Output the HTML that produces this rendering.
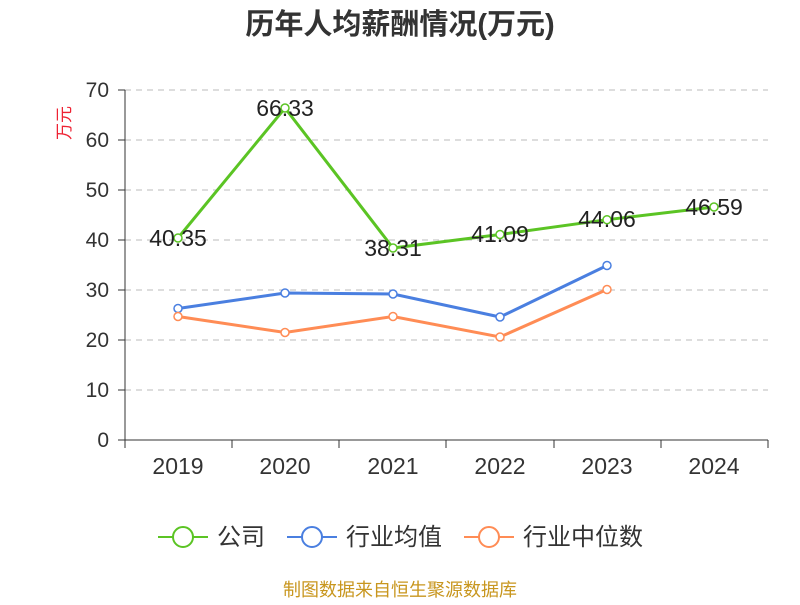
<!DOCTYPE html>
<html><head><meta charset="utf-8"><style>
body{margin:0;background:#fff;}
svg text{font-family:"Liberation Sans","Noto Sans CJK SC",sans-serif;}
</style></head><body>
<svg width="800" height="600" xmlns="http://www.w3.org/2000/svg">
<text x="400" y="34" text-anchor="middle" font-size="29" font-weight="bold" fill="#333">历年人均薪酬情况(万元)</text>
<text x="70" y="123" text-anchor="middle" font-size="17" fill="#e23" transform="rotate(-90 70 123)">万元</text>
<g stroke="#bbb" stroke-dasharray="6,5" stroke-width="1">
<line x1="125" y1="90" x2="768" y2="90"/><line x1="125" y1="140" x2="768" y2="140"/>
<line x1="125" y1="190" x2="768" y2="190"/><line x1="125" y1="240" x2="768" y2="240"/>
<line x1="125" y1="290" x2="768" y2="290"/><line x1="125" y1="340" x2="768" y2="340"/>
<line x1="125" y1="390" x2="768" y2="390"/>
</g>
<g stroke="#333" stroke-width="1">
<line x1="125" y1="90" x2="125" y2="440"/><line x1="125" y1="440" x2="768" y2="440"/>
<line x1="118" y1="90" x2="125" y2="90"/><line x1="118" y1="140" x2="125" y2="140"/><line x1="118" y1="190" x2="125" y2="190"/><line x1="118" y1="240" x2="125" y2="240"/><line x1="118" y1="290" x2="125" y2="290"/><line x1="118" y1="340" x2="125" y2="340"/><line x1="118" y1="390" x2="125" y2="390"/><line x1="118" y1="440" x2="125" y2="440"/>
<line x1="125" y1="440" x2="125" y2="448"/><line x1="232" y1="440" x2="232" y2="448"/><line x1="339" y1="440" x2="339" y2="448"/><line x1="446" y1="440" x2="446" y2="448"/><line x1="554" y1="440" x2="554" y2="448"/><line x1="661" y1="440" x2="661" y2="448"/><line x1="768" y1="440" x2="768" y2="448"/>
</g>
<g font-size="21" fill="#333" text-anchor="end">
<text x="109" y="97">70</text><text x="109" y="147">60</text><text x="109" y="197">50</text><text x="109" y="247">40</text><text x="109" y="297">30</text><text x="109" y="347">20</text><text x="109" y="397">10</text><text x="109" y="447">0</text>
</g>
<g font-size="23" fill="#333" text-anchor="middle">
<text x="178" y="474">2019</text><text x="285" y="474">2020</text><text x="393" y="474">2021</text><text x="500" y="474">2022</text><text x="607" y="474">2023</text><text x="714" y="474">2024</text>
</g>
<polyline fill="none" stroke="#5bc424" stroke-width="3" points="178,238 285,108 393,248 500,234.5 607,219.7 714,207"/>
<polyline fill="none" stroke="#4a7fe0" stroke-width="3" points="178,308.5 285,293 393,294 500,317 607,265.5"/>
<polyline fill="none" stroke="#ff8c55" stroke-width="3" points="178,316.5 285,332.5 393,316.5 500,337 607,289.5"/>
<g fill="#fff" stroke="#5bc424" stroke-width="1.5"><circle cx="178" cy="238" r="4"/><circle cx="285" cy="108" r="4"/><circle cx="393" cy="248" r="4"/><circle cx="500" cy="234.5" r="4"/><circle cx="607" cy="219.7" r="4"/><circle cx="714" cy="207" r="4"/></g>
<g fill="#fff" stroke="#4a7fe0" stroke-width="1.5"><circle cx="178" cy="308.5" r="4"/><circle cx="285" cy="293" r="4"/><circle cx="393" cy="294" r="4"/><circle cx="500" cy="317" r="4"/><circle cx="607" cy="265.5" r="4"/></g>
<g fill="#fff" stroke="#ff8c55" stroke-width="1.5"><circle cx="178" cy="316.5" r="4"/><circle cx="285" cy="332.5" r="4"/><circle cx="393" cy="316.5" r="4"/><circle cx="500" cy="337" r="4"/><circle cx="607" cy="289.5" r="4"/></g>
<g font-size="23" fill="#222" text-anchor="middle">
<text x="178" y="246">40.35</text><text x="285" y="116">66.33</text><text x="393" y="256">38.31</text><text x="500" y="242">41.09</text><text x="607" y="227">44.06</text><text x="714" y="215">46.59</text>
</g>
<g stroke-width="2" fill="#fff">
<line x1="158" y1="537" x2="208" y2="537" stroke="#5bc424"/><circle cx="183" cy="537" r="10" stroke="#5bc424"/>
<line x1="287" y1="537" x2="337" y2="537" stroke="#4a7fe0"/><circle cx="312" cy="537" r="10" stroke="#4a7fe0"/>
<line x1="464" y1="537" x2="514" y2="537" stroke="#ff8c55"/><circle cx="489" cy="537" r="10" stroke="#ff8c55"/>
</g>
<g font-size="24" fill="#333">
<text x="217" y="545">公司</text><text x="346" y="545">行业均值</text><text x="523" y="545">行业中位数</text>
</g>
<text x="400" y="596" text-anchor="middle" font-size="18" fill="#c8961e">制图数据来自恒生聚源数据库</text>
</svg>
</body></html>
